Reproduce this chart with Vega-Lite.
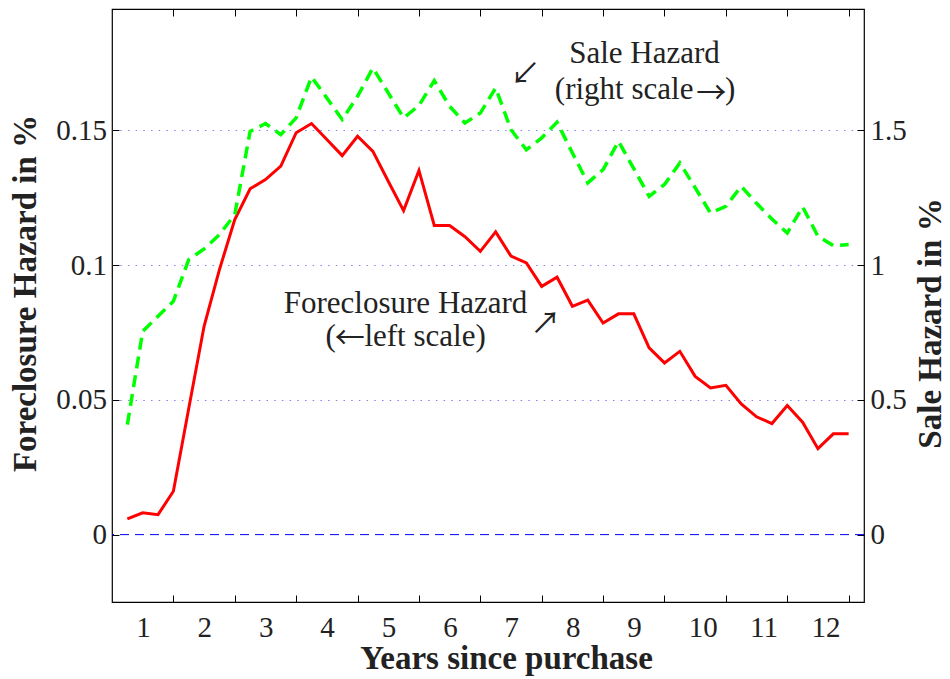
{
  "$schema": "https://vega.github.io/schema/vega-lite/v6.json",
  "width": 752,
  "height": 593,
  "autosize": {"type": "none"},
  "padding": {"left": 112, "top": 9, "right": 86, "bottom": 77},
  "datasets": {
    "hazard": [
      {"quarter": 1, "foreclosure": 0.0058, "sale": 0.408},
      {"quarter": 2, "foreclosure": 0.0081, "sale": 0.754},
      {"quarter": 3, "foreclosure": 0.0074, "sale": 0.81},
      {"quarter": 4, "foreclosure": 0.0161, "sale": 0.866},
      {"quarter": 5, "foreclosure": 0.0468, "sale": 1.02},
      {"quarter": 6, "foreclosure": 0.0773, "sale": 1.06},
      {"quarter": 7, "foreclosure": 0.0983, "sale": 1.113},
      {"quarter": 8, "foreclosure": 0.1169, "sale": 1.187},
      {"quarter": 9, "foreclosure": 0.1283, "sale": 1.496},
      {"quarter": 10, "foreclosure": 0.1317, "sale": 1.525},
      {"quarter": 11, "foreclosure": 0.1367, "sale": 1.484},
      {"quarter": 12, "foreclosure": 0.1491, "sale": 1.546},
      {"quarter": 13, "foreclosure": 0.1525, "sale": 1.698},
      {"quarter": 14, "foreclosure": 0.1466, "sale": 1.62},
      {"quarter": 15, "foreclosure": 0.1406, "sale": 1.54},
      {"quarter": 16, "foreclosure": 0.1478, "sale": 1.626},
      {"quarter": 17, "foreclosure": 0.1422, "sale": 1.731},
      {"quarter": 18, "foreclosure": 0.1311, "sale": 1.639},
      {"quarter": 19, "foreclosure": 0.1202, "sale": 1.546},
      {"quarter": 20, "foreclosure": 0.1351, "sale": 1.592},
      {"quarter": 21, "foreclosure": 0.1147, "sale": 1.684},
      {"quarter": 22, "foreclosure": 0.1147, "sale": 1.589},
      {"quarter": 23, "foreclosure": 0.1105, "sale": 1.527},
      {"quarter": 24, "foreclosure": 0.1051, "sale": 1.564},
      {"quarter": 25, "foreclosure": 0.1123, "sale": 1.657},
      {"quarter": 26, "foreclosure": 0.1033, "sale": 1.502},
      {"quarter": 27, "foreclosure": 0.1008, "sale": 1.428},
      {"quarter": 28, "foreclosure": 0.0921, "sale": 1.472},
      {"quarter": 29, "foreclosure": 0.0955, "sale": 1.53},
      {"quarter": 30, "foreclosure": 0.0847, "sale": 1.416},
      {"quarter": 31, "foreclosure": 0.087, "sale": 1.305},
      {"quarter": 32, "foreclosure": 0.0785, "sale": 1.354},
      {"quarter": 33, "foreclosure": 0.0819, "sale": 1.459},
      {"quarter": 34, "foreclosure": 0.0819, "sale": 1.358},
      {"quarter": 35, "foreclosure": 0.0693, "sale": 1.255},
      {"quarter": 36, "foreclosure": 0.0637, "sale": 1.299},
      {"quarter": 37, "foreclosure": 0.068, "sale": 1.379},
      {"quarter": 38, "foreclosure": 0.0587, "sale": 1.287},
      {"quarter": 39, "foreclosure": 0.0544, "sale": 1.193},
      {"quarter": 40, "foreclosure": 0.0554, "sale": 1.218},
      {"quarter": 41, "foreclosure": 0.0485, "sale": 1.292},
      {"quarter": 42, "foreclosure": 0.0437, "sale": 1.229},
      {"quarter": 43, "foreclosure": 0.0412, "sale": 1.171},
      {"quarter": 44, "foreclosure": 0.0479, "sale": 1.119},
      {"quarter": 45, "foreclosure": 0.0417, "sale": 1.216},
      {"quarter": 46, "foreclosure": 0.0319, "sale": 1.107},
      {"quarter": 47, "foreclosure": 0.0374, "sale": 1.072},
      {"quarter": 48, "foreclosure": 0.0374, "sale": 1.076}
    ],
    "baseline": [{"value": 0}],
    "notes": [
      {"quarter": 34.7, "value": 0.1751, "text": "Sale Hazard"},
      {"quarter": 33.37, "value": 0.1615, "text": "(right scale"},
      {"quarter": 40.28, "value": 0.1615, "text": ")"},
      {"quarter": 19.13, "value": 0.0823, "text": "Foreclosure Hazard"},
      {"quarter": 14.25, "value": 0.0699, "text": "("},
      {"quarter": 20.4, "value": 0.0699, "text": "left scale)"}
    ],
    "arrows": [
      {"quarter": 26.92, "value": 0.1705, "text": "↙"},
      {"quarter": 28.24, "value": 0.0783, "text": "↗"},
      {"quarter": 39.05, "value": 0.1636, "text": "→"},
      {"quarter": 15.49, "value": 0.0724, "text": "←"}
    ]
  },
  "resolve": {
    "scale": {"y": "independent"},
    "axis": {"x": "independent", "y": "independent"}
  },
  "layer": [
    {
      "data": {"name": "baseline"},
      "mark": {"type": "rule", "color": "#0000ff", "strokeWidth": 1, "strokeDash": [9, 6]},
      "encoding": {
        "y": {"field": "value", "type": "quantitative", "scale": {"domain": [-0.025, 0.195], "nice": false, "zero": false}, "axis": null}
      }
    },
    {
      "data": {"name": "hazard"},
      "mark": {"type": "line", "color": "#ff0000", "strokeWidth": 3},
      "encoding": {
        "x": {
          "field": "quarter",
          "type": "quantitative",
          "scale": {"domain": [0, 49], "nice": false, "zero": false},
          "axis": {
            "orient": "bottom",
            "values": [2, 4, 6, 8, 10, 12, 14, 16, 18, 20, 22, 24, 26, 28, 30, 32, 34, 36, 38, 40, 42, 44, 46, 48],
            "labelExpr": "datum.value % 4 == 2 ? '' + (datum.value + 2) / 4 : ''",
            "tickOpacity": {"condition": {"test": "datum.value % 4 == 0", "value": 1}, "value": 0},
            "labelAlign": "left",
            "labelOffset": -7,
            "labelBaseline": "alphabetic",
            "labelPadding": 41.7,
            "labelFlush": false,
            "labelOverlap": false,
            "title": "Years since purchase",
            "titleX": 394,
            "titleY": 66,
            "titleAlign": "center",
            "titleBaseline": "alphabetic"
          }
        },
        "y": {
          "field": "foreclosure",
          "type": "quantitative",
          "scale": {"domain": [-0.025, 0.195], "nice": false, "zero": false},
          "axis": {
            "orient": "left",
            "values": [0, 0.05, 0.1, 0.15],
            "labelExpr": "'' + datum.value",
            "labelPadding": 12.6,
            "grid": true,
            "gridOpacity": {"condition": {"test": "datum.value == 0", "value": 0}, "value": 1},
            "gridColor": "#8080ff",
            "gridDash": [1.5, 6.2],
            "gridWidth": 1,
            "title": "Foreclosure Hazard in %",
            "titleAngle": -90,
            "titleX": -87,
            "titleY": 284,
            "titleAlign": "center",
            "titleBaseline": "middle"
          }
        }
      }
    },
    {
      "data": {"name": "hazard"},
      "mark": {"type": "line", "color": "#00ff00", "strokeWidth": 3.5, "strokeDash": [12, 7]},
      "encoding": {
        "x": {
          "field": "quarter",
          "type": "quantitative",
          "scale": {"domain": [0, 49], "nice": false, "zero": false},
          "axis": {
            "orient": "top",
            "values": [4, 8, 12, 16, 20, 24, 28, 32, 36, 40, 44, 48],
            "labels": false,
            "title": null
          }
        },
        "y": {
          "field": "sale",
          "type": "quantitative",
          "scale": {"domain": [-0.25, 1.95], "nice": false, "zero": false},
          "axis": {
            "orient": "right",
            "values": [0, 0.5, 1, 1.5],
            "labelExpr": "'' + datum.value",
            "labelPadding": 13,
            "title": "Sale Hazard in %",
            "titleAngle": -90,
            "titleX": 66,
            "titleY": 314,
            "titleAlign": "center",
            "titleBaseline": "middle"
          }
        }
      }
    },
    {
      "data": {"name": "notes"},
      "mark": {"type": "text", "font": "Liberation Serif", "fontSize": 31, "color": "#222222", "align": "center", "baseline": "alphabetic"},
      "encoding": {
        "x": {"field": "quarter", "type": "quantitative", "scale": {"domain": [0, 49]}, "axis": null},
        "y": {"field": "value", "type": "quantitative", "scale": {"domain": [-0.025, 0.195], "nice": false, "zero": false}, "axis": null},
        "text": {"field": "text"}
      }
    },
    {
      "data": {"name": "arrows"},
      "mark": {"type": "text", "font": "Noto Sans CJK JP", "fontSize": 30, "color": "#222222", "align": "center", "baseline": "middle"},
      "encoding": {
        "x": {"field": "quarter", "type": "quantitative", "scale": {"domain": [0, 49]}, "axis": null},
        "y": {"field": "value", "type": "quantitative", "scale": {"domain": [-0.025, 0.195], "nice": false, "zero": false}, "axis": null},
        "text": {"field": "text"}
      }
    }
  ],
  "config": {
    "view": {"stroke": "#000000", "strokeWidth": 1.2},
    "axis": {
      "domain": false,
      "grid": false,
      "labelFont": "Liberation Serif",
      "labelFontSize": 29,
      "labelColor": "#222222",
      "titleFont": "Liberation Serif",
      "titleFontSize": 33,
      "titleFontWeight": "bold",
      "titleColor": "#222222",
      "tickColor": "#000000",
      "tickSize": -7,
      "tickWidth": 1
    }
  }
}
